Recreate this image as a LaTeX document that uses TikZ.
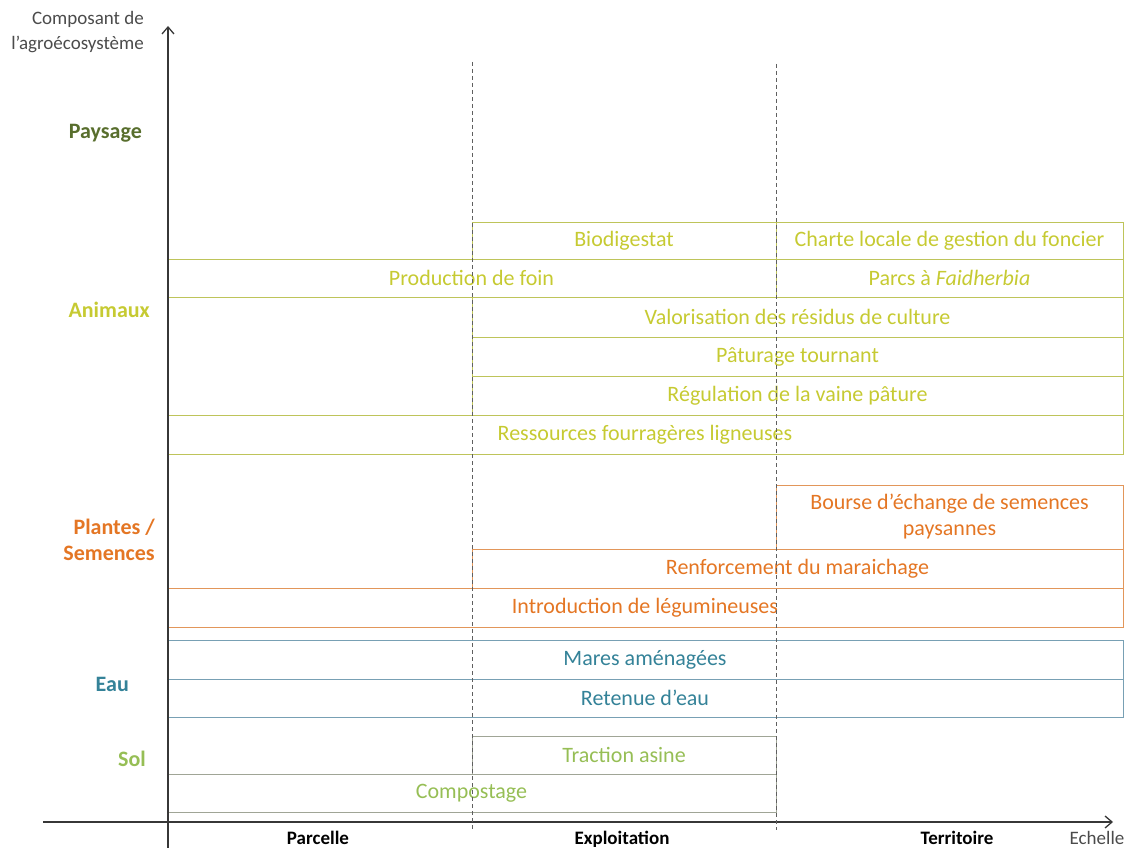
\documentclass[tikz,border=0pt]{standalone}
\usepackage{fontspec}
\setmainfont{Carlito}
\usetikzlibrary{arrows.meta}
\definecolor{cpays}{RGB}{88,110,45}
\definecolor{canim}{RGB}{198,202,50}
\definecolor{canimline}{RGB}{190,196,90}
\definecolor{cplan}{RGB}{228,118,36}
\definecolor{cplanline}{RGB}{226,150,90}
\definecolor{ceau}{RGB}{52,130,152}
\definecolor{ceauline}{RGB}{120,160,180}
\definecolor{csol}{RGB}{150,190,85}
\definecolor{csolline}{RGB}{160,165,150}
\definecolor{caxis}{RGB}{55,55,55}
\begin{document}
\begin{tikzpicture}[x=1pt,y=-1pt,
  boxst/.style={draw, line width=0.8pt, inner sep=0pt, align=center,
    font=\fontsize{22}{26}\selectfont},
  anim/.style={boxst, draw=canimline, text=canim},
  plan/.style={boxst, draw=cplanline, text=cplan},
  eau/.style={boxst, draw=ceauline, text=ceau},
  sol/.style={boxst, draw=csolline, text=csol},
  cat/.style={font=\fontsize{22}{26}\selectfont\bfseries, anchor=east, inner sep=0pt},
  scale lbl/.style={font=\fontsize{19}{22}\selectfont\bfseries, text=black, inner sep=0pt, anchor=base},
  axlbl/.style={font=\fontsize{19}{22}\selectfont, text=caxis!90, inner sep=0pt},
  axisline/.style={draw=caxis, line width=1.3pt},
  sep/.style={draw=caxis!80, line width=0.7pt, dash pattern=on 4pt off 3pt}]
\useasboundingbox (0,0) rectangle (1125,848);

% boxes
\node[anim, minimum width=304, minimum height=37] (bio) at (624,240.5) {Biodigestat};
\node[anim, minimum width=347, minimum height=37] (charte) at (949.5,240.5) {Charte locale de gestion du foncier};
\node[anim, minimum width=609, minimum height=38] (foin) at (471.5,278) {Production de foin};
\node[anim, minimum width=347, minimum height=38] (parcs) at (949.5,278) {Parcs à \textit{Faidherbia}};
\node[anim, minimum width=651, minimum height=40] (valor) at (797.5,317) {Valorisation des résidus de culture};
\node[anim, minimum width=651, minimum height=39] (patur) at (797.5,356.5) {Pâturage tournant};
\node[anim, minimum width=651, minimum height=39] (regul) at (797.5,395.5) {Régulation de la vaine pâture};
\node[anim, minimum width=956, minimum height=39] (ress) at (645,434.5) {Ressources fourragères ligneuses};
\node[plan, minimum width=347, minimum height=64] (bourse) at (949.5,517) {Bourse d’échange de semences\\paysannes};
\node[plan, minimum width=651, minimum height=39] (renf) at (797.5,568.5) {Renforcement du maraichage};
\node[plan, minimum width=956, minimum height=39] (intro) at (645,607.5) {Introduction de légumineuses};
\node[eau, minimum width=956, minimum height=39] (mares) at (645,659.5) {Mares aménagées};
\node[eau, minimum width=956, minimum height=38] (retenue) at (645,698) {Retenue d’eau};
\node[sol, minimum width=304, minimum height=38] (traction) at (624,755) {Traction asine};
\node[sol, minimum width=609, minimum height=38] (compost) at (471.5,793) {Compostage};

% category labels
\node[cat, text=cpays] (paysage) at (142,133) {Paysage};
\node[cat, text=canim] (animaux) at (150,310) {Animaux};
\node[cat, text=cplan, align=right] (plantes) at (155,540) {Plantes /\\Semences};
\node[cat, text=ceau] (eaul) at (129,684) {Eau};
\node[cat, text=csol] (soll) at (146,759) {Sol};

% axes
\coordinate (yb) at (168,848);
\coordinate (yt) at (168,26);
\coordinate (xl) at (43,822);
\coordinate (xr) at (1113,822);
\draw[axisline, -{Straight Barb[length=7pt,width=12pt]}] (yb) -- (yt);
\draw[axisline, -{Straight Barb[length=7pt,width=12pt]}] (xl) -- (xr);

% separators
\coordinate (s1t) at (472,62);
\coordinate (s1b) at (472,830);
\coordinate (s2t) at (776,64);
\coordinate (s2b) at (776,830);
\draw[sep] (s1t) -- (s1b);
\draw[sep] (s2t) -- (s2b);

% axis labels
\node[axlbl, anchor=east] (comp1) at (144,19) {Composant de};
\node[axlbl, anchor=east] (comp2) at (144,44) {l’agroécosystème};
\node[axlbl, anchor=base] (echelle) at (1097,844) {Echelle};
\node[scale lbl] (parcelle) at (318,844) {Parcelle};
\node[scale lbl] (exploit) at (622,844) {Exploitation};
\node[scale lbl] (territ) at (957,844) {Territoire};
\end{tikzpicture}
\end{document}
